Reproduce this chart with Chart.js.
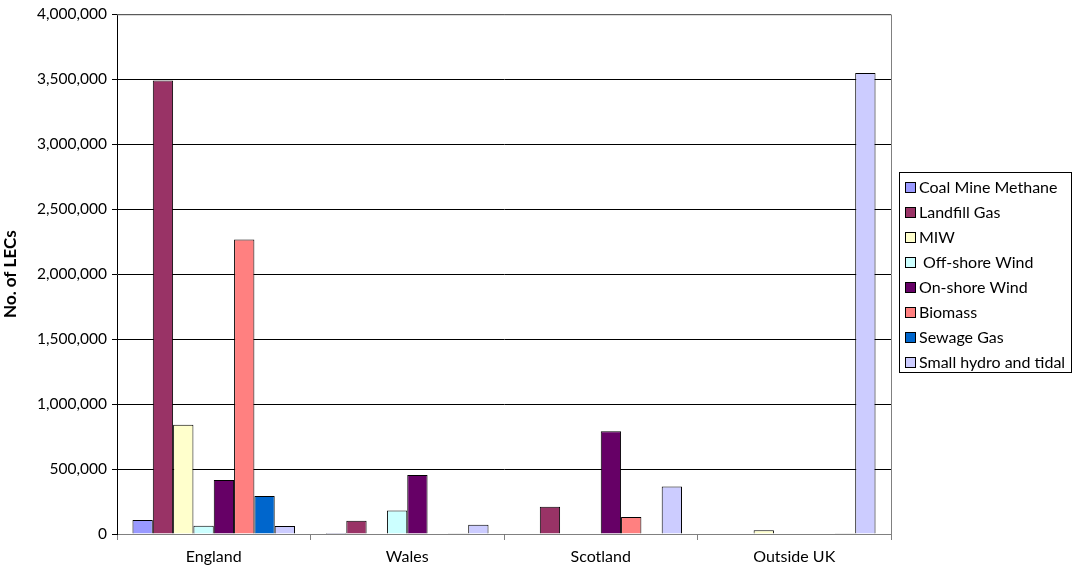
<!DOCTYPE html>
<html>
<head>
<meta charset="utf-8">
<script src="https://cdn.jsdelivr.net/npm/chart.js@4/dist/chart.umd.min.js"></script>
<style>
  html, body { margin: 0; padding: 0; background: #fff; }
  #wrap { width: 1077px; height: 572px; position: relative; }
</style>
</head>
<body>
<div id="wrap"><canvas id="lecs"></canvas></div>
<script>
const regions = ['England', 'Wales', 'Scotland', 'Outside UK']

const coalMineMethane = [108000, 8000, 0, 0]
const landfillGas = [3490000, 102000, 210000, 0]
const miw = [840000, 0, 0, 28000]
const offshoreWind = [64000, 180000, 0, 0]
const onshoreWind = [416000, 455000, 791000, 0]
const biomass = [2266000, 0, 131000, 0]
const sewageGas = [293000, 5000, 0, 5000]
const smallHydroTidal = [62000, 72000, 365000, 3549000]

const yTicks = [0, 500000, 1000000, 1500000, 2000000, 2500000, 3000000, 3500000, 4000000]

const series = [
  { label: 'Coal Mine Methane', data: coalMineMethane, color: '#9999FF' },
  { label: 'Landfill Gas', data: landfillGas, color: '#993366' },
  { label: 'MIW', data: miw, color: '#FFFFCC' },
  { label: ' Off-shore Wind', data: offshoreWind, color: '#CCFFFF' },
  { label: 'On-shore Wind', data: onshoreWind, color: '#660066' },
  { label: 'Biomass', data: biomass, color: '#FF8080' },
  { label: 'Sewage Gas', data: sewageGas, color: '#0066CC' },
  { label: 'Small hydro and tidal', data: smallHydroTidal, color: '#CCCCFF' },
]

const fontFamily = 'Lato, "Open Sans", sans-serif'

// grey frame on the top and right of the plot area
const plotFrame = {
  id: 'plotFrame',
  afterDraw(chart) {
    const { ctx, chartArea: { left, top, right, bottom } } = chart
    ctx.save()
    ctx.strokeStyle = '#808080'
    ctx.lineWidth = 1
    ctx.beginPath()
    ctx.moveTo(left, top + 0.5)
    ctx.lineTo(right + 0.5, top + 0.5)
    ctx.lineTo(right + 0.5, bottom)
    ctx.stroke()
    ctx.restore()
  },
}

// boxed legend like the spreadsheet one
const boxLegend = {
  id: 'boxLegend',
  afterDraw(chart) {
    const ctx = chart.ctx
    const x = 899.5
    const y = 172.5
    const w = 172
    const h = 200
    ctx.save()
    ctx.fillStyle = '#fff'
    ctx.fillRect(x, y, w, h)
    ctx.strokeStyle = '#000'
    ctx.lineWidth = 1
    ctx.strokeRect(x, y, w, h)
    ctx.font = '16px ' + fontFamily
    ctx.textBaseline = 'middle'
    chart.data.datasets.forEach((ds, i) => {
      const cy = 187 + i * 25
      ctx.fillStyle = ds.backgroundColor
      ctx.fillRect(905, cy - 5, 10, 10)
      ctx.strokeRect(905.5, cy - 4.5, 10, 10)
      ctx.fillStyle = '#000'
      ctx.fillText(ds.label, 919, cy + 1)
    })
    ctx.restore()
  },
}

const chart = new Chart(document.getElementById('lecs'), {
  type: 'bar',
  data: {
    labels: regions,
    datasets: series.map((s) => ({
      label: s.label,
      data: s.data,
      backgroundColor: s.color,
      borderColor: '#000',
      borderWidth: 1,
      borderSkipped: 'bottom',
      categoryPercentage: 0.84,
      barPercentage: 1,
    })),
  },
  options: {
    responsive: true,
    maintainAspectRatio: false,
    animation: false,
    layout: { padding: { top: 10, right: 186, bottom: 0, left: 0 } },
    scales: {
      x: {
        offset: true,
        grid: {
          offset: true,
          drawOnChartArea: false,
          drawTicks: true,
          tickLength: 6,
          color: '#808080',
        },
        border: { color: '#808080', width: 1 },
        ticks: {
          color: '#000',
          padding: 7,
          font: { family: fontFamily, size: 16 },
        },
        afterFit: (scale) => { scale.height = 38 },
      },
      y: {
        min: 0,
        max: 4000000,
        afterBuildTicks: (scale) => { scale.ticks = yTicks.map((v) => ({ value: v })) },
        grid: {
          color: '#000',
          lineWidth: 1,
          tickLength: 5,
        },
        border: { color: '#000', width: 1 },
        ticks: {
          color: '#000',
          padding: 5,
          font: { family: fontFamily, size: 15.5 },
          callback: (value) => value.toLocaleString('en-US'),
        },
        title: {
          display: true,
          text: 'No. of LECs',
          color: '#000',
          font: { family: fontFamily, size: 17, weight: 'bold' },
          padding: { top: 0, bottom: 2 },
        },
        afterFit: (scale) => { scale.width = 117 },
      },
    },
    plugins: {
      legend: { display: false },
      tooltip: { enabled: false },
    },
  },
  plugins: [plotFrame, boxLegend],
})
</script>
</body>
</html>
